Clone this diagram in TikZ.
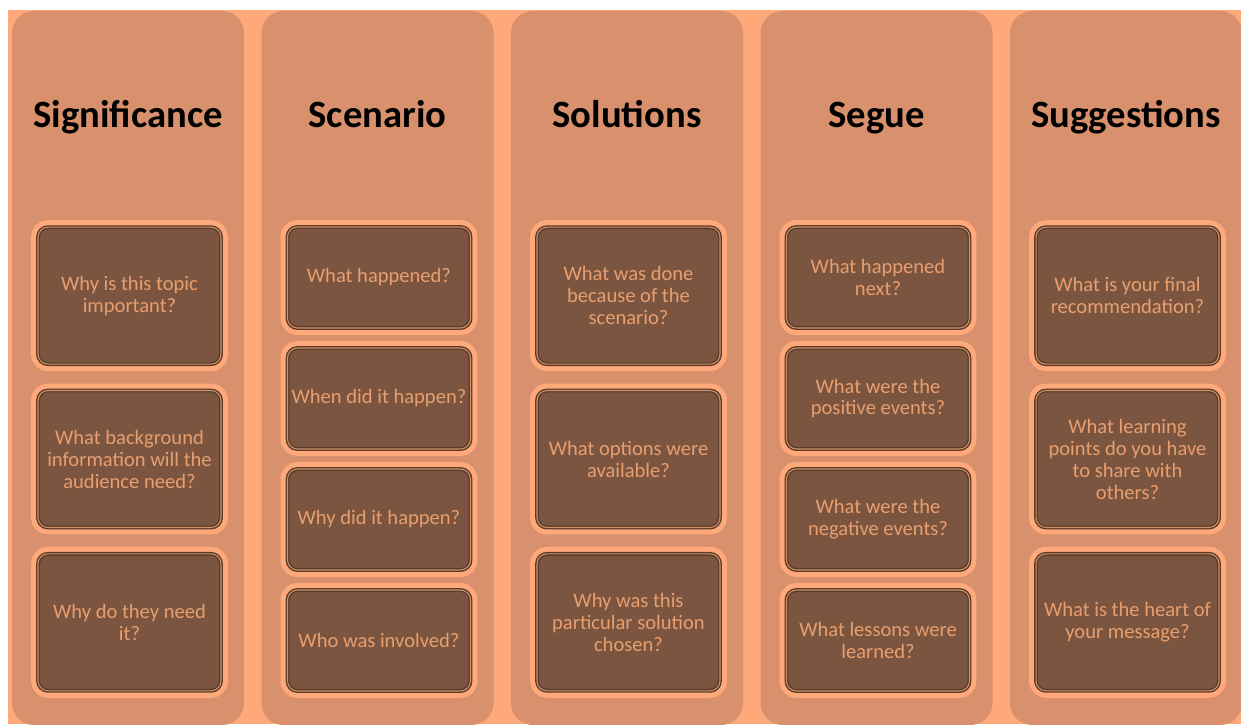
\documentclass[tikz,border=0pt]{standalone}
\usepackage{fontspec}
\setmainfont{Carlito}
\definecolor{bgpeach}{HTML}{FFA97A}
\definecolor{colclay}{HTML}{D8916C}
\definecolor{boxbrown}{HTML}{7B5540}
\definecolor{rimbrown}{HTML}{5A3A28}
\definecolor{rimlight}{HTML}{D0926A}
\definecolor{qtext}{HTML}{E89E6E}

\begin{document}
\begin{tikzpicture}[x=0.02cm, y=-0.02cm,
  lane/.style={fill=colclay, rounded corners=0.44cm},
  heading/.style={font=\fontsize{22}{26}\selectfont\bfseries, text=black, anchor=base},
  question/.style={fill=boxbrown, draw=rimbrown, line width=0.8pt, double=rimlight,
    double distance=0.6pt, rounded corners=0.2cm, minimum width=3.66cm, inner sep=0pt,
    align=center, text=qtext, font=\fontsize{11.7}{12.5}\selectfont,
    preaction={draw=bgpeach, line width=0.28cm}},
  tall/.style={question, minimum height=2.74cm},
  short/.style={question, minimum height=2.02cm}]
\clip (0,0) rectangle (1241,724);
%Background
\fill[white] (0,0) rectangle (1241,724);
\fill[bgpeach] (8,10) rectangle (1241,724);
% Columns
\foreach \c in {0,...,4}
  \fill[lane] ({12+249.5*\c},11) rectangle ++(232,714);
% Headings
\foreach \c/\name/\lbl in {0/sig/Significance, 1/sce/Scenario, 2/sol/Solutions, 3/seg/Segue, 4/sug/Suggestions}
  \node[heading] (\name) at ({128+249.5*\c},127) {\lbl};
% Significance
\foreach \k/\txt in {0/{Why is this topic\\important?}, 1/{What background\\information will the\\audience need?}, 2/{Why do they need\\it?}}
  \node[tall] (sig\k) at (129.5,{295.7+163.3*\k}) {\txt};
% Scenario
\foreach \k/\txt in {0/{What happened?}, 1/{When did it happen?}, 2/{Why did it happen?}, 3/{Who was involved?}}
  \node[short] (sce\k) at (379,{277.5+121*\k}) {\txt};
% Solutions
\foreach \k/\txt in {0/{What was done\\because of the\\scenario?}, 1/{What options were\\available?}, 2/{Why was this\\particular solution\\chosen?}}
  \node[tall] (sol\k) at (628.5,{295.7+163.3*\k}) {\txt};
% Segue
\foreach \k/\txt in {0/{What happened\\next?}, 1/{What were the\\positive events?}, 2/{What were the\\negative events?}, 3/{What lessons were\\learned?}}
  \node[short] (seg\k) at (878,{277.5+121*\k}) {\txt};
% Suggestions
\foreach \k/\txt in {0/{What is your final\\recommendation?}, 1/{What learning\\points do you have\\to share with\\others?}, 2/{What is the heart of\\your message?}}
  \node[tall] (sug\k) at (1127.5,{295.7+163.3*\k}) {\txt};
\end{tikzpicture}
\end{document}
